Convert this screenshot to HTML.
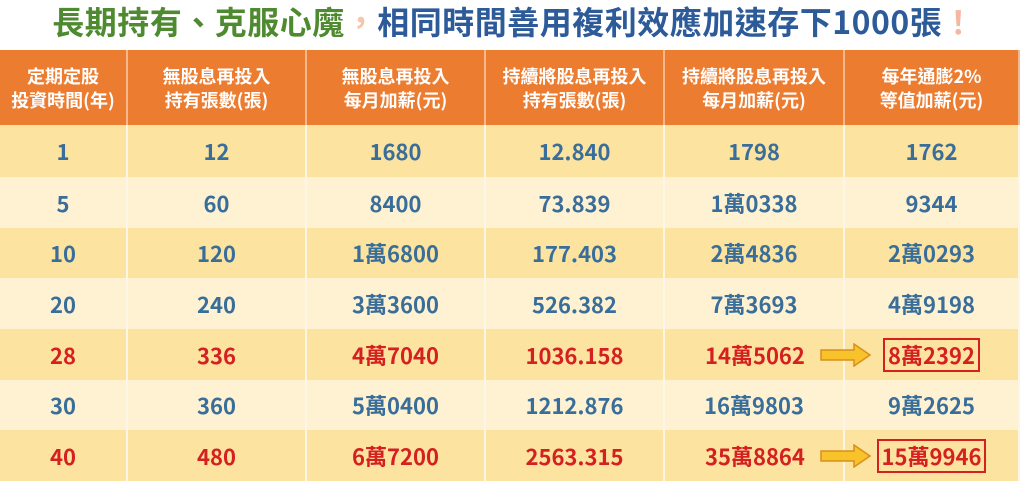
<!DOCTYPE html>
<html><head><meta charset="utf-8"><style>
body{margin:0;width:1027px;height:480px;background:#fff;overflow:hidden;font-family:"Noto Sans CJK TC","Liberation Sans",sans-serif;position:relative}
.t{position:absolute;top:-2px;left:0;width:1027px;text-align:center;font-size:32px;font-weight:bold;line-height:46px;white-space:nowrap;letter-spacing:0.5px}
.c{position:absolute;display:flex;align-items:center;justify-content:center;text-align:center;box-sizing:border-box;border-right:2px solid #fdf6e6}
.h{background:#ec7c30;color:#fff;font-size:18px;line-height:24px;font-weight:bold;border-right:2px solid #f5b88a}
.d{font-size:22px;color:#3a6e9a;font-weight:bold}
.r{color:#d42020}
.box{border:2px solid #d42020;padding:0 3px;line-height:30px}
.arr{position:absolute}
</style></head><body>
<div class="t"><span style="color:#4e8a2f">長期持有、克服心魔</span><span style="color:#f3c7ae">，</span><span style="color:#2d5b9a">相同時間善用複利效應加速存下1000張</span><span style="color:#f4b8a0">！</span></div>
<div id="g"></div>
<script>
const xs=[0,128,307,486,665,845,1020];
const hdr=["定期定股<br>投資時間(年)","無股息再投入<br>持有張數(張)","無股息再投入<br>每月加薪(元)","持續將股息再投入<br>持有張數(張)","持續將股息再投入<br>每月加薪(元)","每年通膨2%<br>等值加薪(元)"];
const rows=[["1","12","1680","12.840","1798","1762"],["5","60","8400","73.839","1萬0338","9344"],["10","120","1萬6800","177.403","2萬4836","2萬0293"],["20","240","3萬3600","526.382","7萬3693","4萬9198"],["28","336","4萬7040","1036.158","14萬5062","8萬2392"],["30","360","5萬0400","1212.876","16萬9803","9萬2625"],["40","480","6萬7200","2563.315","35萬8864","15萬9946"]];
const ys=[125,177,228,278,329,380,430,481];
let h="";
for(let i=0;i<6;i++){h+=`<div class="c h" style="left:${xs[i]}px;top:50px;width:${xs[i+1]-xs[i]}px;height:75px">${hdr[i]}</div>`;}
rows.forEach((r,j)=>{const bg=j%2?"#fef2d3":"#fce3a0";const red=(j==4||j==6);
for(let i=0;i<6;i++){let txt=r[i];let st="";
if(red&&i==5)txt=`<span class="box">${txt}</span>`;
if(red&&i==4)st="justify-content:flex-start;padding-left:40px";
h+=`<div class="c d${red?' r':''}" style="left:${xs[i]}px;top:${ys[j]}px;width:${xs[i+1]-xs[i]}px;height:${ys[j+1]-ys[j]}px;background:${bg};${st}">${txt}</div>`;}
if(red){const cy=(ys[j]+ys[j+1])/2;h+=`<svg class="arr" style="left:820px;top:${cy-12}px" width="52" height="24"><polygon points="1,7 34,7 34,1 50,12 34,23 34,17 1,17" fill="#f7c22a" stroke="#d9901a" stroke-width="1.5"/></svg>`;}
});
h+=`<div style="position:absolute;left:1020px;top:50px;width:7px;height:430px;background:#fff"></div>`;
document.getElementById("g").innerHTML=h;
</script>
</body></html>
